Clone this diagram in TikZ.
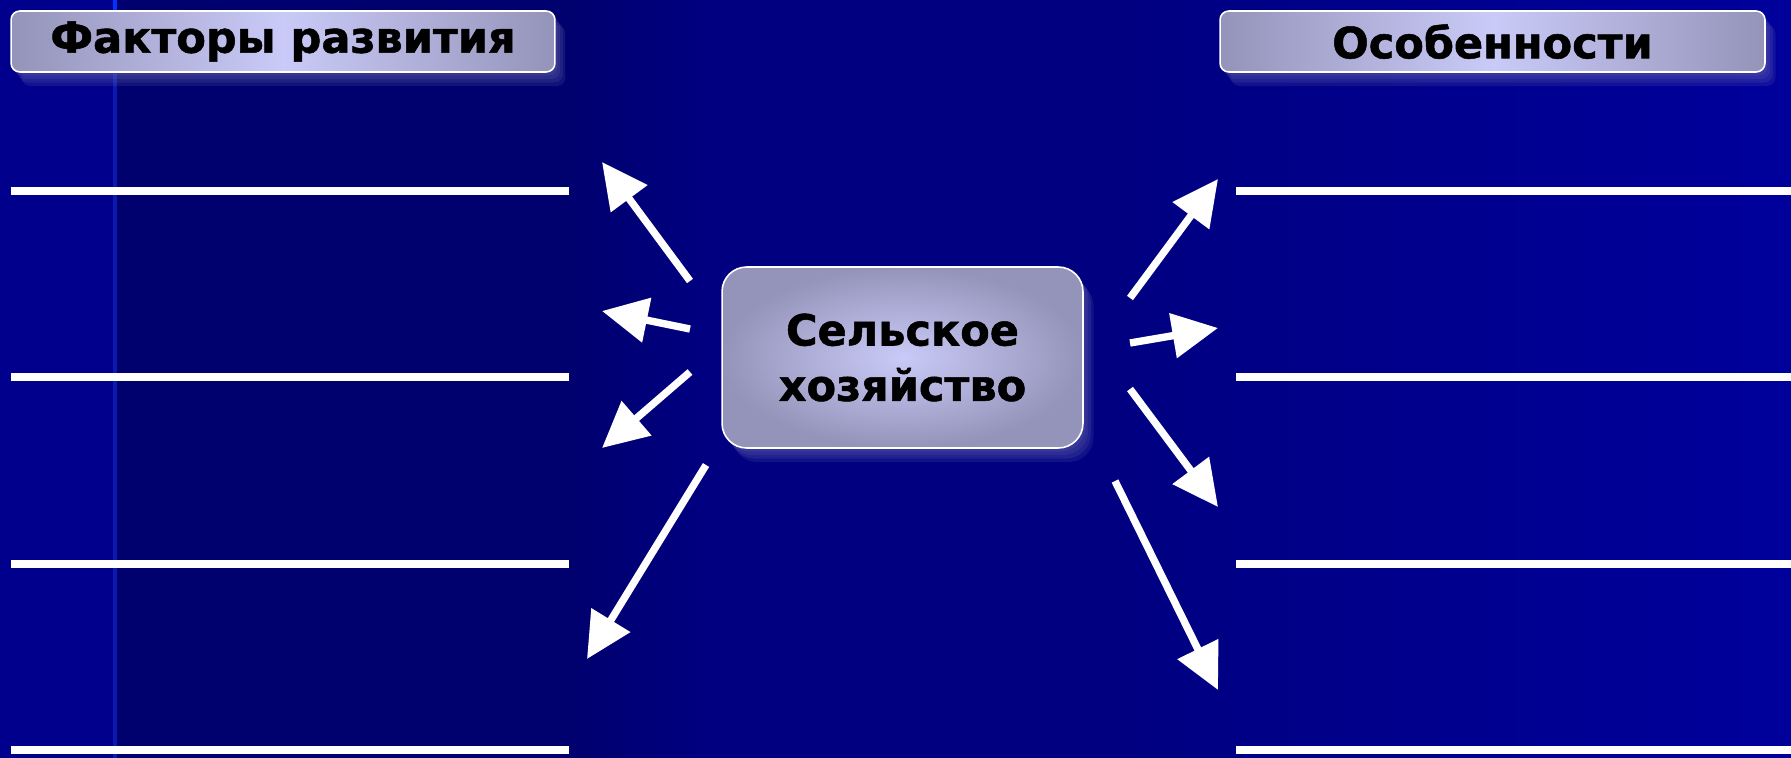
\documentclass[tikz,border=0pt]{standalone}
\usepackage{fontspec}
\setmainfont{DejaVu Sans}[BoldFeatures={FakeBold=1.2}]
\usetikzlibrary{arrows.meta,shadows}

\definecolor{slidebg}{HTML}{000080}
\definecolor{slidedark}{HTML}{00006E}
\definecolor{slidestrip}{HTML}{00008C}
\definecolor{slideright}{HTML}{00009C}
\definecolor{rulerblue}{HTML}{0A1AB0}
\definecolor{boxedge}{HTML}{9494BA}
\definecolor{boxmid}{HTML}{CACAF8}
\definecolor{shadowcol}{HTML}{7070B4}

\tikzset{
    soft shadow/.style={
        drop shadow={fill=shadowcol, opacity=0.16, shadow xshift=1.5pt, shadow yshift=-2pt},
        drop shadow={fill=shadowcol, opacity=0.16, shadow xshift=3pt, shadow yshift=-4pt},
        drop shadow={fill=shadowcol, opacity=0.16, shadow xshift=4.5pt, shadow yshift=-6pt},
        drop shadow={fill=shadowcol, opacity=0.16, shadow xshift=6pt, shadow yshift=-8pt}
    }
}

\begin{document}
\begin{tikzpicture}[
                        x=0.02cm, y=-0.02cm,
                        >={Triangle[length=26pt,width=25pt]},
                        header/.style={rectangle, rounded corners=5pt, draw=white, line width=0.9pt,
                            left color=boxedge, right color=boxedge, middle color=boxmid,
                            soft shadow,
                            minimum height=1.22cm, font=\fontsize{24.5}{29}\selectfont\bfseries},
                        hub/.style={rectangle, rounded corners=14pt, draw=white, line width=0.9pt,
                            inner color=boxmid, outer color=boxedge,
                            soft shadow,
                            minimum width=7.22cm, minimum height=3.62cm, align=center,
                            font=\fontsize{24.5}{31.5}\selectfont\bfseries},
                        blank/.style={draw=white, line width=4pt},
                        link/.style={->, draw=white, line width=4.2pt}
                    ]
                    \useasboundingbox (0,0) rectangle (1791,757);
                    % Background
                    \fill[slidebg] (-10,-10) rectangle (1801,767);
                    \fill[slidedark] (115,-10) rectangle (570,767);
                    \shade[left color=slidedark, right color=slidebg] (569,-10) rectangle (700,767);
                    \shade[left color=slidebg, right color=slideright] (1100,-10) rectangle (1801,767);
                    \fill[slidestrip] (-10,-10) rectangle (115,767);
                    \fill[rulerblue] (113,-10) rectangle (117,767);
                    \fill[blue!80!cyan] (113,-10) rectangle (117,12);

                    % Blocks
                    \node [header, minimum width=10.88cm] (factors) at (283,41.5) {Факторы развития};
                    \node [header, minimum width=10.9cm] (features) at (1492.5,41.5) {Особенности};
                    \node [hub] (agri) at (902.5,357.5) {Сельское\\хозяйство};

                    % Blank lines
                    \foreach \y in {191,377,564,750} {
                        \draw [blank] (11,\y) -- (569,\y);
                        \draw [blank] (1236,\y) -- (1801,\y);
                    }

                    % Arrow ends
                    \coordinate (l1s) at (690,281);  \coordinate (l1e) at (602,162);
                    \coordinate (l2s) at (690,329);  \coordinate (l2e) at (602,311);
                    \coordinate (l3s) at (690,372);  \coordinate (l3e) at (602,448);
                    \coordinate (l4s) at (706,465);  \coordinate (l4e) at (587,659);
                    \coordinate (r1s) at (1130,298); \coordinate (r1e) at (1218,179);
                    \coordinate (r2s) at (1130,343); \coordinate (r2e) at (1218,328);
                    \coordinate (r3s) at (1130,389); \coordinate (r3e) at (1218,507);
                    \coordinate (r4s) at (1115,481); \coordinate (r4e) at (1218,690);

                    % Connections
                    \foreach \k in {l1,l2,l3,l4,r1,r2,r3,r4}
                        \draw [link] (\k s) -- (\k e);
                \end{tikzpicture}
\end{document}
